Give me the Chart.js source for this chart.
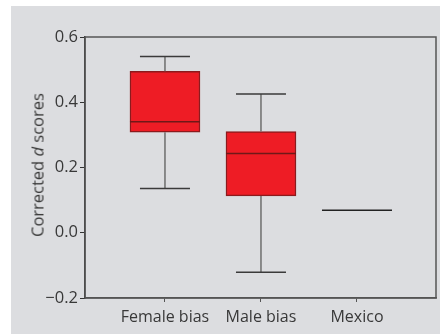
<!DOCTYPE html>
<html>
<head>
<meta charset="utf-8">
<script src="https://cdn.jsdelivr.net/npm/chart.js@4.4.0/dist/chart.umd.min.js"></script>
<style>
  html, body { margin: 0; padding: 0; background: #fff; }
  #wrap { position: relative; width: 440px; height: 334px; }
  #panel { position: absolute; left: 11px; top: 6px; right: 0; bottom: 0; background: #dcdde0; }
  #chart { position: absolute; left: 0; top: 0; }
  #ytitle {
    position: absolute; left: 37px; top: 165px;
    transform: translate(-50%, -50%) rotate(-90deg);
    white-space: nowrap; font: 16.5px "Open Sans", sans-serif; color: #383838;
  }
</style>
</head>
<body>
<div id="wrap">
  <div id="panel"></div>
  <canvas id="chart" width="440" height="334"></canvas>
  <div id="ytitle">Corrected <i>d</i> scores</div>
</div>
<script>
var categories = ["Female bias", "Male bias", "Mexico"];
var mins    = [0.136, -0.121, null];
var q1s     = [0.308, 0.113, null];
var medians = [0.340, 0.243, 0.069];
var q3s     = [0.495, 0.310, null];
var maxs    = [0.540, 0.425, null];
var yTicks  = [-0.2, 0.0, 0.2, 0.4, 0.6];

var boxData = [];
for (var i = 0; i < categories.length; i++) {
	if (q1s[i] !== null) boxData.push({ x: i + 1, y: [q1s[i], q3s[i]] });
}

var boxPlugin = {
	id: 'boxExtras',
	afterDatasetsDraw: function(chart) {
		var ctx = chart.ctx, xs = chart.scales.x, ys = chart.scales.y;
		ctx.save();
		for (var i = 0; i < categories.length; i++) {
			var cx = xs.getPixelForValue(i + 1);
			if (maxs[i] !== null) {
				// whiskers
				ctx.strokeStyle = '#6e6e6e';
				ctx.lineWidth = 1.5;
				ctx.beginPath();
				ctx.moveTo(cx, ys.getPixelForValue(q3s[i]));
				ctx.lineTo(cx, ys.getPixelForValue(maxs[i]));
				ctx.moveTo(cx, ys.getPixelForValue(q1s[i]));
				ctx.lineTo(cx, ys.getPixelForValue(mins[i]));
				ctx.stroke();
				ctx.strokeStyle = '#3a3a3a';
				ctx.beginPath();
				ctx.moveTo(cx - 25, ys.getPixelForValue(maxs[i]));
				ctx.lineTo(cx + 25, ys.getPixelForValue(maxs[i]));
				ctx.moveTo(cx - 25, ys.getPixelForValue(mins[i]));
				ctx.lineTo(cx + 25, ys.getPixelForValue(mins[i]));
				ctx.stroke();
				ctx.strokeStyle = '#701818';
			} else {
				ctx.strokeStyle = '#222';
			}
			// median
			ctx.lineWidth = 1.5;
			ctx.beginPath();
			ctx.moveTo(cx - 35, ys.getPixelForValue(medians[i]));
			ctx.lineTo(cx + 35, ys.getPixelForValue(medians[i]));
			ctx.stroke();
		}
		// frame
		var a = chart.chartArea;
		ctx.strokeStyle = '#555';
		ctx.lineWidth = 1.5;
		ctx.strokeRect(a.left, a.top, a.right - a.left, a.bottom - a.top);
		ctx.restore();
	}
};

var ctx = document.getElementById("chart");
var myChart = new Chart(ctx, {
	type: 'bar',
	data: {
		datasets: [{
			data: boxData,
			backgroundColor: '#ee1c25',
			borderColor: '#8c1a1d',
			borderWidth: 1.5,
			borderSkipped: false,
			barThickness: 70
		}]
	},
	options: {
		responsive: false,
		animation: false,
		layout: { padding: { top: 37, right: 4, left: 0, bottom: 0 } },
		plugins: { legend: { display: false }, tooltip: { enabled: false } },
		scales: {
			x: {
				type: 'linear',
				offset: false,
				min: 0.167, max: 3.823,
				afterBuildTicks: function(s) { s.ticks = [{ value: 1 }, { value: 2 }, { value: 3 }]; },
				afterFit: function(s) { s.height = 36; },
				ticks: {
					autoSkip: false,
					callback: function(v) { return categories[Math.round(v) - 1]; },
					font: { family: '"Open Sans", sans-serif', size: 16 },
					color: '#383838',
					padding: 6,
					maxRotation: 0
				},
				grid: { drawOnChartArea: false, drawTicks: true, tickLength: 4, color: '#555', offset: false },
				border: { color: '#555', width: 1.5 }
			},
			y: {
				min: -0.2, max: 0.6,
				afterBuildTicks: function(s) { s.ticks = yTicks.map(function(v) { return { value: v }; }); },
				afterFit: function(s) { s.width = 85; },
				ticks: {
					callback: function(v) { return v < 0 ? '\u2212' + Math.abs(v).toFixed(1) : v.toFixed(1); },
					font: { family: '"Open Sans", sans-serif', size: 16.5 },
					color: '#383838',
					padding: 2
				},
				grid: { drawOnChartArea: false, drawTicks: true, tickLength: 5, color: '#333' },
				border: { color: '#333', width: 1.5 }
			}
		}
	},
	plugins: [boxPlugin]
});
</script>
</body>
</html>
